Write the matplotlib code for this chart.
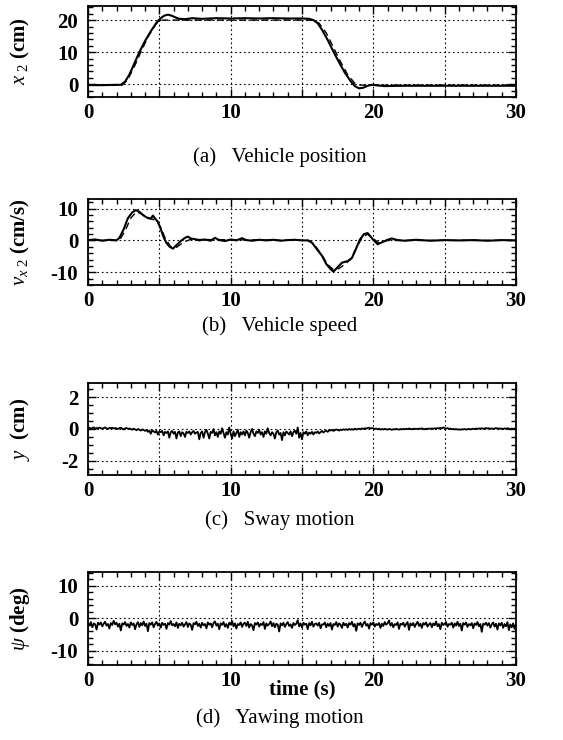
import numpy as np
import matplotlib
matplotlib.use("Agg")
import matplotlib.pyplot as plt
from matplotlib.ticker import MultipleLocator, FuncFormatter

# ==========================
# Data
# ==========================

# (a) vehicle position x2 (cm) - measured (solid) and reference (dashed)
xa_t = [0, 1, 2, 2.3, 2.6, 2.9, 3.2, 3.6, 4.0, 4.4,
        4.8, 5.1, 5.35, 5.6, 5.85, 6.1, 6.4, 6.8, 7.3, 8,
        9, 10, 11, 12, 13, 14, 15, 15.5, 15.8, 16.1,
        16.4, 16.8, 17.2, 17.6, 18.0, 18.4, 18.7, 19.0, 19.3, 19.6,
        19.9, 20.3, 20.8, 22, 25, 28, 30]
xa_v = [-0.3, -0.3, -0.2, -0.2, 0.8, 3.0, 6.0, 10.0, 13.5, 16.5,
        19.2, 20.6, 21.4, 21.7, 21.4, 20.9, 20.4, 20.3, 20.6, 20.4,
        20.6, 20.5, 20.6, 20.5, 20.6, 20.5, 20.5, 20.4, 20.0, 19.0,
        17.0, 13.8, 10.2, 6.8, 3.6, 1.0, -0.6, -1.3, -1.1, -0.5,
        -0.2, -0.4, -0.6, -0.5, -0.5, -0.5, -0.5]
ra_t = [0, 2.4, 2.8, 3.3, 3.8, 4.3, 4.8, 5.2, 15.8, 16.2,
        16.7, 17.2, 17.7, 18.2, 18.7, 19.1, 30]
ra_v = [-0.3, -0.3, 1.5, 6, 11, 15.5, 19, 20, 20, 19,
        16, 11.5, 7, 3, 0.3, -0.3, -0.3]

# (b) vehicle speed v_x2 (cm/s)
vb_t = [0, 0.5, 1.0, 1.5, 2.0, 2.2, 2.5, 2.8, 3.1, 3.35,
        3.6, 3.9, 4.2, 4.4, 4.55, 4.7, 4.9, 5.1, 5.3, 5.5,
        5.7, 5.95, 6.2, 6.5, 6.8, 7.0, 7.2, 7.5, 7.8, 8.2,
        8.6, 8.9, 9.2, 9.6, 10.0, 10.4, 10.8, 11.1, 11.5, 12,
        12.5, 13, 13.5, 14, 14.5, 15, 15.4, 15.7, 16.05, 16.4,
        16.7, 17.0, 17.2, 17.5, 17.8, 18.2, 18.5, 18.75, 19.05, 19.35,
        19.6, 19.95, 20.3, 20.6, 21.0, 21.3, 21.7, 22.2, 23, 24,
        25, 26, 27, 28, 29, 30]
vb_v = [0.1, 0.3, -0.1, 0.2, 0.0, 0.8, 3.5, 7.0, 8.8, 9.5,
        9.0, 7.8, 7.0, 6.8, 7.8, 6.9, 5.8, 3.6, 1.0, -0.8,
        -1.9, -2.6, -1.5, -0.2, 0.8, 1.2, 0.6, 0.4, 0.0, 0.3,
        -0.1, 0.8, 0.1, -0.2, 0.3, 0.0, 0.7, 0.1, -0.1, 0.2,
        0.0, 0.2, -0.1, 0.1, 0.2, 0.0, 0.0, -0.7, -2.8, -4.8,
        -7.4, -9.0, -9.8, -8.4, -7.0, -6.5, -5.5, -3.0, 0.2, 2.0,
        2.3, 0.4, -1.2, -0.6, 0.2, 0.6, 0.1, -0.1, 0.2, -0.1,
        0.1, 0.0, 0.1, -0.1, 0.1, 0.0]
rb_t = [0, 2.2, 2.6, 3.0, 3.4, 3.8, 4.3, 4.8, 5.1, 5.4,
        5.8, 6.2, 6.7, 7.2, 15.5, 15.9, 16.3, 16.8, 17.2, 17.6,
        18.0, 18.4, 18.8, 19.2, 19.6, 20.0, 20.4, 21, 30]
rb_v = [0, 0, 3.0, 7.0, 9.0, 8.2, 7.0, 6.2, 4.0, 0.8,
        -2.0, -2.2, -0.5, 0.3, 0, -1.5, -4.0, -7.5, -9.2, -8.8,
        -7.5, -6.0, -2.5, 0.8, 2.0, 0.5, -0.8, 0, 0]

# (c) sway motion y (cm), sampled every 0.1 s
yc_v = [0.05, 0.08, 0.02, 0.06, 0.1, 0.03, 0.07, 0.04, 0.09, 0.05,
        0.02, 0.06, 0.1, 0.04, 0.0, 0.07, 0.05, 0.08, 0.03, 0.06,
        0.04, 0.0, 0.05, 0.08, 0.02, -0.03, 0.04, 0.06, 0.01, 0.03,
        0.0, -0.05, 0.02, -0.02, -0.08, 0.0, -0.04, -0.1, -0.03, -0.06,
        -0.12, -0.05, -0.18, -0.1, -0.3, -0.08, -0.15, -0.22, -0.12, -0.35,
        -0.15, -0.2, -0.12, -0.4, -0.18, -0.25, -0.15, -0.55, -0.2, -0.12,
        -0.3, -0.18, -0.6, -0.22, -0.15, -0.45, -0.2, -0.28, -0.5, -0.18,
        -0.25, -0.15, -0.35, -0.2, -0.12, -0.3, -0.22, -0.18, -0.65, -0.25,
        -0.15, -0.55, -0.2, -0.05, -0.3, -0.6, -0.18, -0.25, 0.0, -0.4,
        -0.2, -0.5, -0.15, -0.3, 0.05, -0.25, -0.55, -0.2, -0.35, 0.1,
        -0.3, -0.6, -0.15, -0.45, -0.25, -0.05, -0.5, -0.2, -0.35, -0.15,
        -0.4, -0.1, -0.25, -0.55, -0.2, 0.0, -0.3, -0.45, -0.15, -0.25,
        -0.05, -0.35, -0.2, -0.5, -0.15, -0.3, 0.05, -0.25, -0.4, -0.2,
        -0.3, -0.6, -0.2, -0.1, -0.35, -0.25, -0.7, -0.2, -0.4, -0.15,
        -0.25, -0.35, -0.15, -0.45, -0.2, -0.1, -0.3, 0.1, -0.55, -0.25,
        -0.65, -0.2, -0.3, -0.15, -0.4, -0.22, -0.3, -0.18, -0.35, -0.2,
        -0.25, -0.15, -0.28, -0.2, -0.12, -0.22, -0.15, -0.1, -0.18, -0.08,
        -0.1, -0.05, -0.12, -0.08, -0.03, -0.06, -0.1, -0.04, -0.07, -0.02,
        -0.05, -0.02, -0.06, 0.0, -0.04, -0.01, -0.05, 0.02, -0.03, 0.0,
        0.02, -0.02, 0.04, 0.0, 0.05, 0.02, 0.06, 0.08, 0.03, 0.06,
        0.04, 0.0, 0.03, -0.02, 0.02, -0.04, 0.0, -0.03, 0.01, -0.02,
        -0.04, 0.0, -0.02, -0.05, -0.01, -0.03, 0.01, -0.02, -0.04, 0.0,
        -0.03, 0.01, -0.02, 0.02, -0.01, 0.03, 0.0, -0.02, 0.02, 0.0,
        0.02, -0.01, 0.03, 0.0, 0.04, 0.01, -0.02, 0.02, 0.0, 0.03,
        0.01, 0.04, 0.0, 0.05, 0.02, 0.06, 0.03, 0.08, 0.04, 0.1,
        0.05, 0.02, 0.06, 0.0, 0.03, -0.02, 0.01, -0.03, 0.0, -0.04,
        -0.02, -0.05, -0.01, -0.03, 0.0, -0.04, -0.02, 0.01, -0.03, 0.0,
        0.02, -0.01, 0.03, 0.0, 0.04, 0.02, 0.05, 0.01, 0.03, 0.06,
        0.03, 0.05, 0.01, 0.04, 0.0, 0.03, 0.06, 0.02, 0.04, 0.01,
        0.03, 0.0, 0.04, 0.01, 0.05, 0.02, 0.0, 0.03, 0.01, 0.02,
        0.02]

# (d) yawing motion psi (deg), sampled every 0.1 s
pd_v = [-1.5, -2.2, -1.2, -2.8, -1.6, -1.9, -3.5, -1.4, -2.0, -1.3,
        -2.5, -1.7, -1.1, -2.3, -1.8, -3.2, -1.5, -2.1, -0.8, -1.9,
        -1.4, -2.6, -1.7, -3.8, -1.6, -2.0, -1.2, -2.4, -1.8, -2.9,
        -1.3, -2.1, -1.6, -3.4, -1.9, -1.2, -2.7, -1.5, -2.2, -1.0,
        -2.4, -1.7, -4.0, -1.5, -2.0, -1.3, -2.8, -1.8, -1.1, -2.3,
        -1.6, -2.9, -1.4, -2.1, -1.7, -3.3, -1.5, -2.0, -0.9, -2.2,
        -1.8, -2.5, -1.3, -3.0, -1.7, -2.2, -1.4, -2.6, -1.9, -1.2,
        -2.7, -1.6, -2.0, -3.6, -1.5, -1.9, -1.1, -2.4, -1.7, -2.9,
        -1.4, -2.2, -1.8, -3.1, -1.3, -2.0, -1.6, -2.8, -1.5, -1.0,
        -2.3, -1.7, -3.4, -1.6, -2.1, -1.2, -2.6, -1.8, -3.0, -1.4,
        -2.0, -0.9, -2.5, -1.6, -3.2, -1.8, -2.1, -1.3, -2.7, -1.7,
        -1.4, -2.4, -1.1, -2.9, -1.8, -2.2, -3.7, -1.5, -2.0, -1.3,
        -2.6, -1.7, -2.1, -1.2, -3.3, -1.6, -2.3, -1.8, -1.0, -2.5,
        -1.5, -2.8, -1.7, -2.0, -4.1, -1.6, -2.2, -1.4, -2.7, -1.8,
        -1.2, -2.4, -1.9, -3.0, -1.5, -2.1, -1.7, -0.6, -2.5, -1.6,
        -2.9, -1.4, -2.0, -1.7, -3.4, -1.5, -2.2, -1.1, -2.6, -1.8,
        -1.6, -2.3, -1.4, -3.1, -1.9, -2.0, -1.3, -2.8, -1.7, -2.4,
        -1.5, -3.5, -1.8, -2.1, -1.2, -2.6, -1.6, -2.0, -3.0, -1.4,
        -2.2, -1.7, -2.9, -1.5, -2.0, -1.1, -2.5, -1.8, -3.9, -1.6,
        -2.1, -1.4, -2.7, -1.7, -1.0, -2.3, -1.8, -3.2, -1.5, -2.0,
        -1.3, -2.6, -1.8, -2.1, -1.5, -3.0, -1.7, -2.4, -1.2, -2.0,
        -1.6, -0.7, -2.3, -1.5, -2.8, -1.8, -2.1, -1.3, -3.3, -1.7,
        -2.0, -1.4, -2.6, -1.8, -1.2, -3.6, -1.6, -2.2, -1.5, -2.7,
        -1.8, -1.1, -2.4, -1.7, -3.0, -1.5, -2.0, -1.3, -2.6, -1.9,
        -1.5, -2.8, -1.6, -2.2, -1.0, -2.5, -1.8, -3.4, -1.4, -2.1,
        -1.7, -1.2, -2.6, -1.8, -2.0, -1.4, -2.9, -1.6, -2.3, -1.1,
        -2.4, -1.7, -3.8, -1.5, -2.0, -1.3, -2.7, -1.8, -2.2, -1.5,
        -3.1, -1.6, -2.1, -1.2, -2.5, -1.8, -4.2, -1.7, -2.0, -1.4,
        -2.3, -1.5, -2.9, -1.9, -1.3, -2.6, -1.7, -3.5, -1.6, -2.2,
        -1.4, -3.0, -1.8, -2.5, -1.2, -3.7, -1.9, -2.8, -1.6, -3.3,
        -2.0]

t_samp = np.linspace(0, 30, len(yc_v))

captions = ["(a)   Vehicle position", "(b)   Vehicle speed",
            "(c)   Sway motion", "(d)   Yawing motion"]

# ==========================
# Style
# ==========================
plt.rcParams["font.family"] = ["Liberation Serif", "DejaVu Serif"]
plt.rcParams["mathtext.fontset"] = "custom"
plt.rcParams["mathtext.rm"] = "Liberation Serif"
plt.rcParams["mathtext.it"] = "Liberation Serif:italic"
plt.rcParams["mathtext.bf"] = "Liberation Serif:bold"

fig = plt.figure(figsize=(5.63, 7.4), dpi=100)

W, H = 563.0, 740.0
left, right = 88, 516


def make_axes(top, bottom):
    return fig.add_axes([left / W, 1 - bottom / H, (right - left) / W, (bottom - top) / H])


def style(ax, ylim, ymaj, ymin, ylabel):
    ax.set_xlim(0, 30)
    ax.set_ylim(*ylim)
    ax.xaxis.set_major_locator(MultipleLocator(5))
    ax.xaxis.set_minor_locator(MultipleLocator(1))
    ax.xaxis.set_major_formatter(
        FuncFormatter(lambda v, p: "%d" % v if int(round(v)) % 10 == 0 else ""))
    ax.yaxis.set_major_locator(MultipleLocator(ymaj))
    ax.yaxis.set_minor_locator(MultipleLocator(ymin))
    ax.yaxis.set_major_formatter(FuncFormatter(lambda v, p: "%d" % round(v)))
    ax.tick_params(which="both", direction="in", top=True, right=True,
                   labelsize=15, width=1.0)
    ax.tick_params(which="major", length=6)
    ax.tick_params(axis="x", which="major", pad=4)
    ax.tick_params(axis="y", which="major", pad=7)
    ax.tick_params(which="minor", length=3.5)
    for lab in ax.get_xticklabels() + ax.get_yticklabels():
        lab.set_fontweight("bold")
    for s in ax.spines.values():
        s.set_linewidth(1.3)
    ax.grid(True, which="major", color="black", linestyle=(0, (1.5, 2.5)), linewidth=0.8)
    ax.set_ylabel(ylabel, fontsize=15, fontweight="bold", labelpad=4)


# (a)
ax1 = make_axes(6, 97)
ax1.plot(ra_t, ra_v, color="black", linestyle=(0, (5, 3)), linewidth=1.0)
ax1.plot(xa_t, xa_v, color="black", linewidth=1.5)
style(ax1, (-4, 24.4), 10, 2, r"$x_{\ 2}$ (cm)")

# (b)
ax2 = make_axes(199, 285)
ax2.plot(rb_t, rb_v, color="black", linestyle=(0, (5, 3)), linewidth=1.0)
ax2.plot(vb_t, vb_v, color="black", linewidth=1.5)
style(ax2, (-14, 13), 10, 2, r"$\nu_{x\ 2}$ (cm/s)")

# (c)
ax3 = make_axes(383, 475)
ax3.plot(t_samp, yc_v, color="black", linewidth=1.3)
style(ax3, (-2.9, 2.9), 2, 0.5, r"$y$  (cm)")

# (d)
ax4 = make_axes(572, 665)
ax4.plot(t_samp, pd_v, color="black", linewidth=1.3)
style(ax4, (-14.4, 14.2), 10, 2, r"$\psi$ (deg)")
ax4.set_xlabel("time (s)", fontsize=15, fontweight="bold", labelpad=-8)

# align y labels
for ax in (ax1, ax2, ax3, ax4):
    ax.yaxis.set_label_coords(-0.13, 0.5)

# captions
cap_y = [157, 326, 520, 718]
for text, yy in zip(captions, cap_y):
    fig.text(280 / W, 1 - yy / H, text, ha="center", va="center", fontsize=15)

plt.savefig("out.png", dpi=100)
